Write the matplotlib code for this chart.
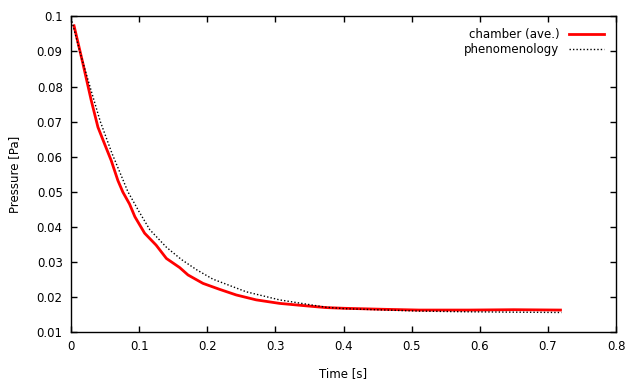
import matplotlib
matplotlib.use('Agg')
import matplotlib.pyplot as plt

# chamber average
t_chamber = [0.0044, 0.0176, 0.0297, 0.0395, 0.0493, 0.059, 0.0688, 0.0761, 0.0859,
             0.0937, 0.108, 0.1249, 0.14, 0.1595, 0.1717, 0.1937, 0.2181, 0.2425,
             0.2718, 0.306, 0.345, 0.3743, 0.401, 0.462, 0.511, 0.584, 0.65, 0.7185]
p_chamber = [0.0973, 0.0864, 0.076, 0.0684, 0.0636, 0.0589, 0.0532, 0.0499, 0.0465,
             0.0429, 0.0382, 0.0348, 0.031, 0.0284, 0.0263, 0.0239, 0.0222, 0.0206,
             0.0192, 0.0182, 0.0175, 0.017, 0.0168, 0.0165, 0.0163, 0.0163, 0.0164, 0.0163]

# phenomenology curve
t_phen = [0.0, 0.015, 0.03, 0.043, 0.06, 0.0835, 0.1, 0.1156, 0.14, 0.162, 0.185,
          0.2083, 0.2572, 0.306, 0.3743, 0.401, 0.462, 0.511, 0.584, 0.65, 0.72]
p_phen = [0.0995, 0.0885, 0.0785, 0.070, 0.061, 0.050, 0.0443, 0.0392, 0.0342, 0.0307, 0.0277,
          0.0251, 0.0215, 0.0192, 0.0171, 0.0167, 0.0163, 0.016, 0.0158, 0.0157, 0.0156]

xticks = [0, 0.1, 0.2, 0.3, 0.4, 0.5, 0.6, 0.7, 0.8]
yticks = [0.01, 0.02, 0.03, 0.04, 0.05, 0.06, 0.07, 0.08, 0.09, 0.1]

fig = plt.figure(figsize=(6.4, 3.84), dpi=100)
ax = fig.add_axes([0.111, 0.135, 0.8515, 0.8225])

ax.plot(t_chamber, p_chamber, color='red', lw=2, label='chamber (ave.)')
ax.plot(t_phen, p_phen, color='black', lw=1, ls=(0, (1, 1.5)), label='phenomenology')

ax.set_xlim(0, 0.8)
ax.set_ylim(0.01, 0.1)
ax.set_xticks(xticks)
ax.set_xticklabels(['0', '0.1', '0.2', '0.3', '0.4', '0.5', '0.6', '0.7', '0.8'])
ax.set_yticks(yticks)
ax.set_yticklabels(['0.01', '0.02', '0.03', '0.04', '0.05', '0.06', '0.07', '0.08', '0.09', '0.1'])
ax.tick_params(direction='in', length=4.5, width=1, top=True, right=True, labelsize=8.5, pad=6)
for s in ax.spines.values():
    s.set_linewidth(1)

ax.set_xlabel('Time [s]', fontsize=8.5, labelpad=10)
ax.set_ylabel('Pressure [Pa]', fontsize=8.5, labelpad=11)

ax.legend(loc='upper right', frameon=False, markerfirst=False, fontsize=8.5,
          handlelength=3.0, handletextpad=0.8, labelspacing=0.2, borderaxespad=0.6)

fig.savefig('out.png', dpi=100)
